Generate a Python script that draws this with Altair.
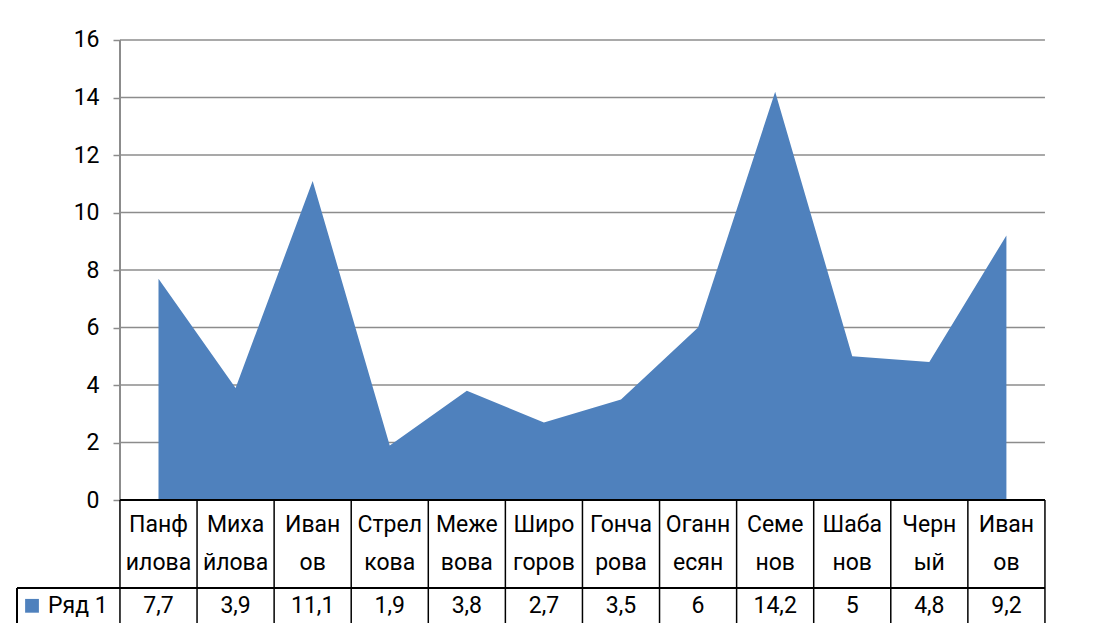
import altair as alt
import pandas as pd

# ---- data ----
names_top = ["Панф", "Миха", "Иван", "Стрел", "Меже", "Широ", "Гонча", "Оганн", "Семе", "Шаба", "Черн", "Иван"]
names_bottom = ["илова", "йлова", "ов", "кова", "вова", "горов", "рова", "есян", "нов", "нов", "ый", "ов"]
values = [7.7, 3.9, 11.1, 1.9, 3.8, 2.7, 3.5, 6, 14.2, 5, 4.8, 9.2]
series_name = "Ряд 1"
y_ticks = [0, 2, 4, 6, 8, 10, 12, 14, 16]

AREA = "#4F81BD"
GRID = "#8C8C8C"
FONT = "Roboto"
FS = 23

n = len(values)
df = pd.DataFrame({
    "idx": list(range(n)),
    "value": values,
    "top": names_top,
    "bottom": names_bottom,
})
grid_df = pd.DataFrame({"v": [t for t in y_ticks if t > 0]})
bounds_df = pd.DataFrame({"b": [k - 0.5 for k in range(n + 1)]})

W, H = 1080, 615
X_MIN, X_MAX = -1.9525, 12.0585
Y_MIN, Y_MAX = -4.278, 17.113
LEFT_CELL = -1.8357
ROW_SPLIT = -3.06
HEAD1, HEAD2, VAL_ROW = -0.87, -2.19, -3.68

xs = alt.Scale(domain=[X_MIN, X_MAX], nice=False, zero=False)
ys = alt.Scale(domain=[Y_MIN, Y_MAX], nice=False, zero=False)
yaxis = alt.Axis(values=y_ticks, grid=False, domain=False, offset=-112,
                 tickSize=7, tickColor=GRID, tickWidth=1.5,
                 labelFontSize=FS, labelFont=FONT, labelColor="black",
                 labelPadding=14, title=None)

base = alt.Chart(df)

grid = alt.Chart(grid_df).mark_rule(color=GRID, strokeWidth=1.5).encode(
    x=alt.datum(-0.5, scale=xs, axis=None), x2=alt.datum(n - 0.5),
    y=alt.Y("v:Q", scale=ys, axis=yaxis),
)

area = base.mark_area(color=AREA, opacity=1).encode(
    x=alt.X("idx:Q", scale=xs, axis=None),
    y=alt.Y("value:Q", scale=ys, axis=yaxis),
)

axis_line = base.mark_rule(color=GRID, strokeWidth=1.5).encode(
    x=alt.datum(-0.5, scale=xs, axis=None),
    y=alt.datum(0, scale=ys, axis=yaxis), y2=alt.datum(y_ticks[-1]),
)

vlines = alt.Chart(bounds_df).mark_rule(color="black", strokeWidth=1.5).encode(
    x=alt.X("b:Q", scale=xs, axis=None),
    y=alt.datum(0, scale=ys, axis=yaxis), y2=alt.datum(Y_MIN),
)
left_vline = base.mark_rule(color="black", strokeWidth=1.5).encode(
    x=alt.datum(LEFT_CELL, scale=xs, axis=None),
    y=alt.datum(ROW_SPLIT, scale=ys, axis=yaxis), y2=alt.datum(Y_MIN),
)
hline_top = base.mark_rule(color="black", strokeWidth=1.5).encode(
    x=alt.datum(-0.5, scale=xs, axis=None), x2=alt.datum(n - 0.5),
    y=alt.datum(0, scale=ys, axis=yaxis),
)
hline_mid = base.mark_rule(color="black", strokeWidth=1.5).encode(
    x=alt.datum(LEFT_CELL, scale=xs, axis=None), x2=alt.datum(n - 0.5),
    y=alt.datum(ROW_SPLIT, scale=ys, axis=yaxis),
)

txt = dict(font=FONT, fontSize=FS, color="black", baseline="middle")
head1 = base.mark_text(**txt).encode(
    x=alt.X("idx:Q", scale=xs, axis=None),
    y=alt.datum(HEAD1, scale=ys, axis=yaxis), text="top:N",
)
head2 = base.mark_text(**txt).encode(
    x=alt.X("idx:Q", scale=xs, axis=None),
    y=alt.datum(HEAD2, scale=ys, axis=yaxis), text="bottom:N",
)
vals = base.transform_calculate(
    label="replace(toString(datum.value), '.', ',')"
).mark_text(**txt).encode(
    x=alt.X("idx:Q", scale=xs, axis=None),
    y=alt.datum(VAL_ROW, scale=ys, axis=yaxis), text="label:N",
)

legend_df = pd.DataFrame({"name": [series_name]})
legend_sq = alt.Chart(legend_df).mark_point(shape="square", filled=True, color=AREA,
                                             size=190, opacity=1).encode(
    x=alt.datum(-1.641, scale=xs, axis=None),
    y=alt.datum(VAL_ROW, scale=ys, axis=yaxis),
)
legend_txt = alt.Chart(legend_df).mark_text(align="left", **txt).encode(
    x=alt.datum(-1.4335, scale=xs, axis=None),
    y=alt.datum(VAL_ROW, scale=ys, axis=yaxis), text="name:N",
)

chart = alt.layer(
    grid, area, axis_line, vlines, left_vline, hline_top, hline_mid,
    head1, head2, vals, legend_sq, legend_txt,
).properties(
    width=W, height=H, padding=0, autosize=alt.AutoSizeParams(type="none"),
    background="white",
).configure_view(stroke=None)

chart.save("out.html", embed_options={"renderer": "svg", "actions": False})
